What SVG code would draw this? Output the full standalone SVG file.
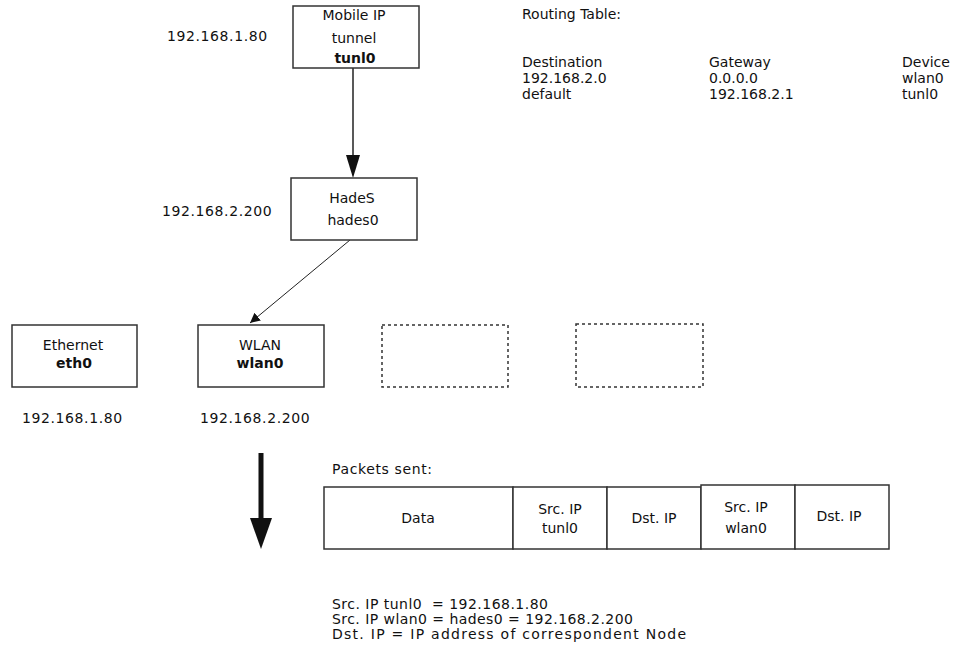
<svg xmlns="http://www.w3.org/2000/svg" width="953" height="663" viewBox="0 0 953 663">
<style>
text{font-family:"DejaVu Sans","Liberation Sans",sans-serif;font-size:14px;fill:#111}
.b{font-weight:bold}
.m{text-anchor:middle}
.ip{letter-spacing:0.6px}
.box{fill:#fff;stroke:#333;stroke-width:1.5}
.dot{fill:none;stroke:#333;stroke-width:1.5;stroke-dasharray:3 3}
.cell{fill:#fff;stroke:#333;stroke-width:1.5}
.ln{fill:none;stroke:#222;stroke-width:1.5}
.thin{fill:none;stroke:#222;stroke-width:1}
</style>
<defs>
<marker id="ah" markerWidth="10" markerHeight="10" refX="10" refY="5" orient="auto" markerUnits="userSpaceOnUse">
<path d="M0,0 L10,5 L0,10 z" fill="#111"/>
</marker>
</defs>
<rect width="953" height="663" fill="#fff"/>

<g id="connectors">
<line class="ln" x1="353" y1="68" x2="353" y2="158"/>
<path d="M346,155 L360,155 L353,178 z" fill="#111"/>
<line class="thin" x1="350" y1="240" x2="250" y2="323" marker-end="url(#ah)"/>
<rect x="258.5" y="453" width="5" height="67" fill="#111"/>
<path d="M250,518 L272,518 L261,549 z" fill="#111"/>
</g>

<g id="mobileip">
<rect class="box" x="293" y="6" width="126" height="62"/>
<text class="m" x="354" y="20">Mobile IP</text>
<text class="m" x="354" y="43">tunnel</text>
<text class="m b" x="355" y="63">tunl0</text>
</g>
<text class="ip" x="167" y="41">192.168.1.80</text>

<g id="hades">
<rect class="box" x="291" y="178" width="126" height="62"/>
<text class="m" x="352" y="203">HadeS</text>
<text class="m" x="353" y="225">hades0</text>
</g>
<text class="ip" x="162" y="216">192.168.2.200</text>

<g id="ethernet">
<rect class="box" x="12" y="325" width="125" height="62"/>
<text class="m" x="73" y="350">Ethernet</text>
<text class="m b" x="74" y="368">eth0</text>
</g>
<text class="ip" x="22" y="423">192.168.1.80</text>

<g id="wlan">
<rect class="box" x="198" y="325" width="126" height="62"/>
<text class="m" x="260" y="350">WLAN</text>
<text class="m b" x="260" y="368">wlan0</text>
</g>
<text class="ip" x="200" y="423">192.168.2.200</text>

<g id="empty1"><rect class="dot" x="382" y="325" width="126" height="62"/></g>
<g id="empty2"><rect class="dot" x="576" y="324" width="127" height="63"/></g>

<g id="routing">
<text x="522" y="19">Routing Table:</text>
<text x="522" y="67">Destination</text>
<text x="522" y="83">192.168.2.0</text>
<text x="522" y="99">default</text>
<text x="709" y="67">Gateway</text>
<text x="709" y="83">0.0.0.0</text>
<text x="709" y="99">192.168.2.1</text>
<text x="902" y="67">Device</text>
<text x="902" y="83">wlan0</text>
<text x="902" y="99">tunl0</text>
</g>

<g id="packets">
<text x="332" y="474" textLength="100" lengthAdjust="spacing">Packets sent:</text>
<rect class="cell" x="324" y="487" width="189" height="62"/>
<rect class="cell" x="513" y="487" width="94" height="62"/>
<rect class="cell" x="607" y="487" width="94" height="62"/>
<rect class="cell" x="701" y="485" width="94" height="64"/>
<rect class="cell" x="795" y="485" width="94" height="64"/>
<text class="m" x="418" y="523">Data</text>
<text class="m" x="560" y="514">Src. IP</text>
<text class="m" x="560" y="533">tunl0</text>
<text class="m" x="654" y="523">Dst. IP</text>
<text class="m" x="746" y="512">Src. IP</text>
<text class="m" x="746" y="533">wlan0</text>
<text class="m" x="839" y="521">Dst. IP</text>
</g>

<g id="legend">
<text x="332" y="609" textLength="216" lengthAdjust="spacing">Src. IP tunl0&#160; = 192.168.1.80</text>
<text x="332" y="624" textLength="301" lengthAdjust="spacing">Src. IP wlan0 = hades0 = 192.168.2.200</text>
<text x="332" y="639" textLength="354" lengthAdjust="spacing">Dst. IP = IP address of correspondent Node</text>
</g>
</svg>
